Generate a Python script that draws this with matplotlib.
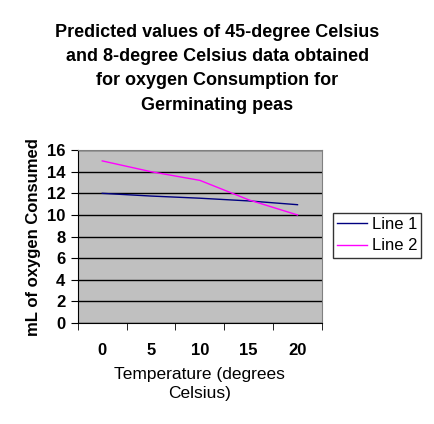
import matplotlib.pyplot as plt

temps = ['0', '5', '10', '15', '20']
line1 = [12.0, 11.75, 11.55, 11.3, 10.95]
line2 = [15.0, 14.0, 13.2, 11.4, 10.0]

plt.rcParams['font.family'] = ['Liberation Sans', 'DejaVu Sans']

fig = plt.figure(figsize=(4.35, 4.24), dpi=100)
ax = fig.add_axes([0.179, 0.238, 0.561, 0.408])
ax.set_facecolor('#C0C0C0')

x = list(range(len(temps)))
ax.plot(x, line1, color='#000080', linewidth=1, label='Line 1')
ax.plot(x, line2, color='#FF00FF', linewidth=1, label='Line 2')

ax.set_xlim(-0.5, len(temps) - 0.5)
ax.set_ylim(0, 16)
ax.set_yticks(range(0, 17, 2))
ax.yaxis.grid(True, color='black', linewidth=1)
ax.set_axisbelow(True)

# category axis: ticks at boundaries, labels in the middle
ax.set_xticks([i - 0.5 for i in range(len(temps) + 1)], minor=True)
ax.set_xticks(x)
ax.set_xticklabels(temps)
ax.tick_params(axis='x', which='major', length=0, pad=14, labelsize=12)
ax.tick_params(axis='x', which='minor', length=5, color='black')
ax.tick_params(axis='y', length=5, labelsize=12, pad=4)
for lbl in ax.get_xticklabels() + ax.get_yticklabels():
    lbl.set_fontweight('bold')

for side in ['top', 'right']:
    ax.spines[side].set_color('#808080')
for side in ['left', 'bottom']:
    ax.spines[side].set_color('black')

ax.set_ylabel('mL of oxygen Consumed', fontsize=12, fontweight='bold', labelpad=4)
ax.set_xlabel('Temperature (degrees\nCelsius)', fontsize=12.5, labelpad=7, linespacing=1.3)

fig.text(0.499, 0.943, 'Predicted values of 45-degree Celsius\nand 8-degree Celsius data obtained\n'
         'for oxygen Consumption for\nGerminating peas', ha='center', va='top',
         fontsize=13, fontweight='bold', linespacing=1.55)

leg = fig.legend(loc='upper left', bbox_to_anchor=(0.766, 0.498), frameon=True,
                 fancybox=False, edgecolor='black', fontsize=12, handlelength=1.8,
                 borderpad=0.25, labelspacing=0.38, handletextpad=0.25, borderaxespad=0)
leg.get_frame().set_linewidth(1)

fig.savefig('out.png', dpi=100)
